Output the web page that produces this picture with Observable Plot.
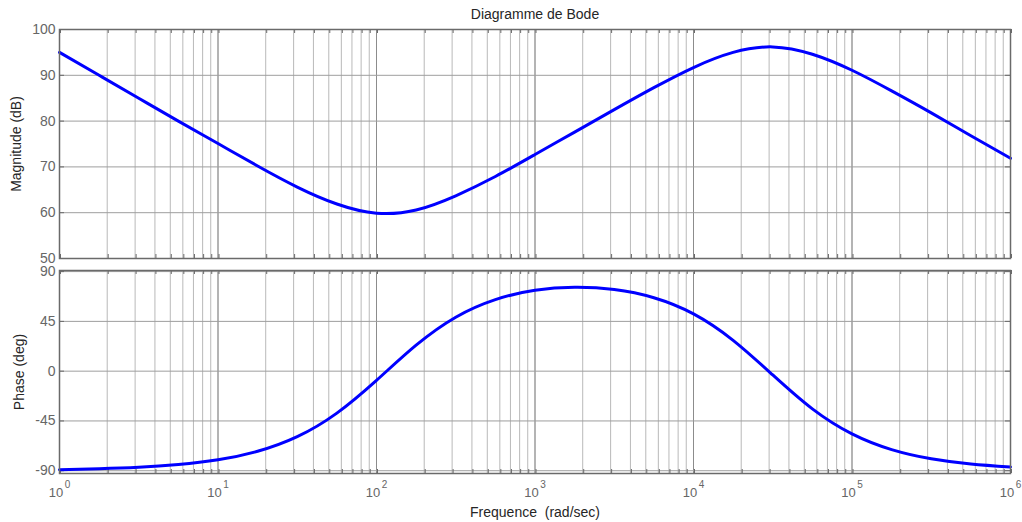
<!DOCTYPE html>
<html>
<head>
<meta charset="utf-8">
<script src="https://cdn.jsdelivr.net/npm/d3@7"></script>
<script src="https://cdn.jsdelivr.net/npm/@observablehq/plot@0.6"></script>
<style>
  html, body { margin: 0; padding: 0; background: #fff; }
  #chart { position: relative; width: 1022px; height: 522px; }
  #chart svg { position: absolute; left: 0; }
</style>
</head>
<body>
<div id="chart"></div>
<script>
// Bode diagram: magnitude (dB) and phase (deg) against frequency (rad/s)
const frequency = [1, 1.778, 3.162, 5.623, 10, 17.78, 31.62, 56.23, 100, 177.8, 316.2, 562.3,
  1000, 1778, 3162, 5623, 10000, 17783, 31623, 56234, 100000, 177828, 316228, 562341, 1000000];
const magnitudeDb = [95.0, 90.0, 85.0, 80.0, 75.1, 70.2, 65.6, 61.9, 59.9, 60.6, 63.7, 67.9,
  72.7, 77.6, 82.5, 87.3, 91.7, 95.0, 96.2, 94.6, 91.1, 86.6, 81.8, 76.8, 71.9];
const phaseDeg = [-89.0, -88.2, -86.9, -84.4, -80.1, -72.4, -59.2, -37.9, -8.3, 23.5, 48.8, 64.7,
  73.1, 75.8, 73.8, 66.4, 51.8, 27.9, -3.4, -34.1, -56.7, -70.9, -79.2, -83.9, -86.6];

const decadeTicks = [1, 10, 100, 1000, 10000, 100000, 1000000];
const magnitudeTicks = [50, 60, 70, 80, 90, 100];
const phaseTicks = [-90, -45, 0, 45, 90];
const magnitudeDomain = [50, 100];
const phaseDomain = [-92.5, 91];

const rows = frequency.map((f, i) => ({f, mag: magnitudeDb[i], phase: phaseDeg[i]}));

const WIDTH = 1022, LEFT = 59, RIGHT = 12;
const FONT = '"Liberation Sans", Arial, Helvetica, sans-serif';
const FRAME = "#6a6a6a";
// every 1..9 multiple of each decade
const minorTicks = d3.scaleLog().domain([1, 1e6]).ticks();

function panel({key, yDomain, yTicks, height, marginTop, marginBottom, yLabel, yLabelOffset, xAxis}) {
  const frameH = height - marginTop - marginBottom;
  const frameW = WIDTH - LEFT - RIGHT;
  return Plot.plot({
    width: WIDTH, height,
    marginLeft: LEFT, marginRight: RIGHT, marginTop, marginBottom,
    style: {fontFamily: FONT, fontSize: "14px", background: "transparent", overflow: "visible"},
    x: {type: "log", domain: [1, 1e6], axis: null},
    y: {domain: yDomain, axis: null},
    marks: [
      Plot.gridX(minorTicks, {stroke: "#b9b9b9", strokeOpacity: 1}),
      Plot.gridX(decadeTicks, {stroke: "#8c8c8c", strokeOpacity: 1}),
      Plot.gridY(yTicks, {stroke: "#9e9e9e", strokeOpacity: 1}),
      // short inward ticks on all four edges
      Plot.tickX(minorTicks, {x: d => d, insetBottom: frameH - 4, stroke: FRAME, dx: 1}),
      Plot.tickX(minorTicks, {x: d => d, insetTop: frameH - 4, stroke: FRAME, dx: 1}),
      Plot.tickY(yTicks, {y: d => d, insetRight: frameW - 5, stroke: FRAME}),
      Plot.tickY(yTicks, {y: d => d, insetLeft: frameW - 5, stroke: FRAME}),
      Plot.axisY(yTicks, {tickSize: 0, tickPadding: 4, tickFormat: d => String(d), fill: "#666", fontSize: 14, label: null}),
      Plot.axisY({ticks: [], tickSize: 0, label: yLabel, labelAnchor: "center", labelArrow: "none",
        labelOffset: yLabelOffset, fill: "#262626", fontSize: 14}),
      ...xAxis,
      Plot.line(rows, {x: "f", y: key, stroke: "#0000ff", strokeWidth: 3, curve: "natural",
        strokeLinejoin: "round", strokeLinecap: "round"}),
      Plot.frame({stroke: FRAME, strokeWidth: 1.5})
    ]
  });
}

const magnitudePanel = panel({
  key: "mag", yDomain: magnitudeDomain, yTicks: magnitudeTicks,
  height: 264, marginTop: 29, marginBottom: 6,
  yLabel: "Magnitude (dB)", yLabelOffset: 48,
  xAxis: [Plot.axisX({anchor: "top", ticks: [], tickSize: 0, label: "Diagramme de Bode",
    labelAnchor: "center", labelArrow: "none", labelOffset: 20, fill: "#262626", fontSize: 14})]
});

const phasePanel = panel({
  key: "phase", yDomain: phaseDomain, yTicks: phaseTicks,
  height: 258, marginTop: 6, marginBottom: 49,
  yLabel: "Phase (deg)", yLabelOffset: 45,
  xAxis: [
    Plot.axisX(decadeTicks, {anchor: "bottom", tickSize: 0, tickPadding: 14,
      tickFormat: d => String(Math.round(Math.log10(d))), fill: "#666", fontSize: 13, label: null}),
    Plot.axisX({anchor: "bottom", ticks: [], tickSize: 0, label: "Frequence\u00a0 (rad/sec)",
      labelAnchor: "center", labelArrow: "none", labelOffset: 43, fill: "#262626", fontSize: 14})
  ]
});

// decade labels written as 10 with a raised exponent
const NS = "http://www.w3.org/2000/svg";
for (const t of phasePanel.querySelectorAll('[aria-label="x-axis tick label"] text')) {
  const exponent = t.textContent;
  t.textContent = "";
  const base = document.createElementNS(NS, "tspan");
  base.textContent = "10";
  const sup = document.createElementNS(NS, "tspan");
  sup.setAttribute("dy", "-9");
  sup.setAttribute("dx", "1.5");
  sup.setAttribute("font-size", "10");
  sup.textContent = exponent;
  t.append(base, sup);
}

magnitudePanel.style.top = "0px";
phasePanel.style.top = "264px";
document.getElementById("chart").append(magnitudePanel, phasePanel);
</script>
</body>
</html>
